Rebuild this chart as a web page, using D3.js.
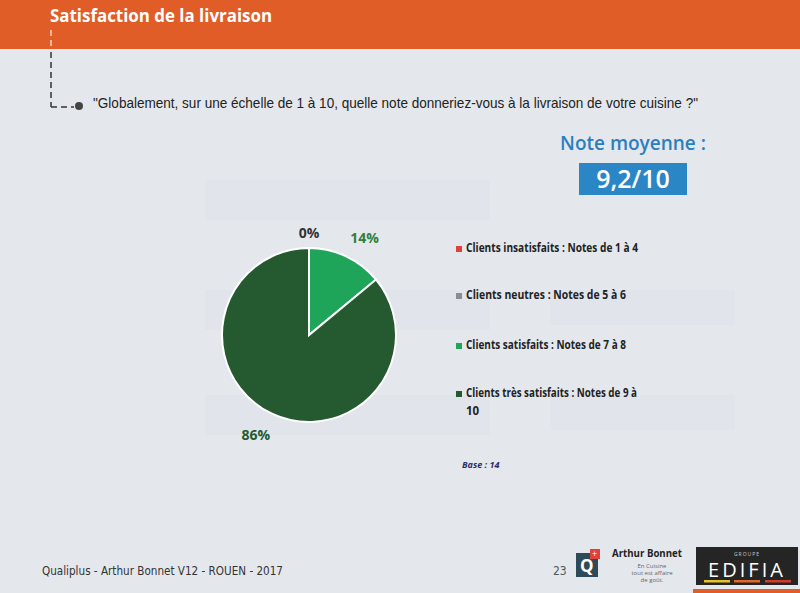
<!DOCTYPE html>
<html><head><meta charset="utf-8">
<script src="https://cdn.jsdelivr.net/npm/d3@7"></script>
<style>
html,body{margin:0;padding:0;background:#e4e8ed;}
svg{display:block;}
</style></head>
<body>
<svg id="c" width="800" height="593"></svg>
<script>
const title = "Satisfaction de la livraison";
const question = "\"Globalement, sur une échelle de 1 à 10, quelle note donneriez-vous à la livraison de votre cuisine ?\"";
const categories = ["Clients insatisfaits : Notes de 1 à 4","Clients neutres : Notes de 5 à 6","Clients satisfaits : Notes de 7 à 8","Clients très satisfaits : Notes de 9 à 10"];
const values = [0, 0, 14, 86];
const colors = ["#e0413a","#8a8d90","#1ea55a","#255a30"];
const labelColors = ["#333","#333","#2f7f3c","#255a30"];
const meanLabel = "Note moyenne :";
const meanValue = "9,2/10";
const baseLabel = "Base : 14";
const footer = "Qualiplus - Arthur Bonnet V12 - ROUEN - 2017";
const pageNum = "23";

const svg = d3.select("#c");
svg.append("rect").attr("width",800).attr("height",593).attr("fill","#e4e8ed");
// faint ghost shapes (bleed-through)
const ghost = svg.append("g").attr("fill","#e1e5eb");
ghost.append("rect").attr("x",205).attr("y",180).attr("width",285).attr("height",40);
ghost.append("rect").attr("x",205).attr("y",290).attr("width",285).attr("height",40);
ghost.append("rect").attr("x",205).attr("y",395).attr("width",285).attr("height",40);
ghost.append("rect").attr("x",550).attr("y",290).attr("width",185).attr("height",35);
ghost.append("rect").attr("x",550).attr("y",395).attr("width",185).attr("height",35);

// header bar
svg.append("rect").attr("x",0).attr("y",0).attr("width",800).attr("height",49).attr("fill","#e15d27");
svg.append("text").attr("x",50).attr("y",22).text(title)
  .attr("fill","#fff").attr("font-family","'Open Sans'").attr("font-weight","bold")
  .attr("font-size",17).attr("textLength",222).attr("lengthAdjust","spacingAndGlyphs");

// dashed connector
svg.append("line").attr("x1",51).attr("x2",51).attr("y1",30).attr("y2",48)
  .attr("stroke","#f3d2c2").attr("stroke-width",1.5).attr("stroke-dasharray","6,4");
svg.append("line").attr("x1",51).attr("x2",51).attr("y1",52).attr("y2",107)
  .attr("stroke","#333").attr("stroke-width",1.5).attr("stroke-dasharray","6,4");
svg.append("line").attr("x1",51).attr("x2",74).attr("y1",107).attr("y2",107)
  .attr("stroke","#333").attr("stroke-width",1.5).attr("stroke-dasharray","6,4");
svg.append("circle").attr("cx",79).attr("cy",106).attr("r",4).attr("fill","#444");
svg.append("text").attr("x",93).attr("y",108).text(question)
  .attr("fill","#222").attr("font-family","'Liberation Sans'").attr("font-size",14.5)
  .attr("textLength",605).attr("lengthAdjust","spacingAndGlyphs");

// mean
svg.append("text").attr("x",633).attr("y",150).attr("text-anchor","middle").text(meanLabel)
  .attr("fill","#2a7fc0").attr("font-family","'Open Sans'").attr("font-weight",600).attr("font-size",19);
svg.append("rect").attr("x",579).attr("y",163).attr("width",108).attr("height",32).attr("fill","#2b86c6");
svg.append("text").attr("x",633).attr("y",188).attr("text-anchor","middle").text(meanValue)
  .attr("fill","#fff").attr("font-family","'Open Sans'").attr("font-weight",600).attr("font-size",25);

// pie
const cx = 309, cy = 335, r = 87;
const pie = d3.pie().sort(null).value(d=>d.v);
const data = pie(categories.map((c,i)=>({c, v: values[i], col: colors[i], lc: labelColors[i]})));
const arc = d3.arc().innerRadius(0).outerRadius(r);
const g = svg.append("g").attr("transform",`translate(${cx},${cy})`);
g.selectAll("path").data(data.filter(d=>d.data.v>0)).join("path")
  .attr("d",arc).attr("fill",d=>d.data.col).attr("stroke","#fff").attr("stroke-width",2);

// labels
const shown = [false,true,true,true];
data.forEach((d,i)=>{
  if(!shown[i]) return;
  let lx, ly;
  if(d.data.v===0){ lx = 0; ly = -r-15; }
  else {
    const a = (d.startAngle+d.endAngle)/2;
    const rr = d.data.v>50 ? r+24 : r+20;
    lx = Math.sin(a)*rr + (d.data.v>50 ? -6 : 10); ly = -Math.cos(a)*rr;
  }
  g.append("text").attr("x",lx).attr("y",ly+5).attr("text-anchor","middle")
    .text(d3.format(".0f")(d.data.v)+"%")
    .attr("fill", d.data.lc)
    .attr("font-family","'Open Sans'").attr("font-weight","bold").attr("font-size",14);
});

// legend
const legY = [251, 298, 348, 396];
const leg = svg.append("g");
categories.forEach((c,i)=>{
  leg.append("rect").attr("x",456).attr("y",legY[i]-5).attr("width",6).attr("height",6).attr("fill",colors[i]);
  const t = leg.append("text").attr("x",466).attr("y",legY[i]+1)
    .attr("fill","#222").attr("font-family","'Open Sans'").attr("font-weight","bold").attr("font-size",11.5);
  if(i===3){
    t.text("Clients très satisfaits : Notes de 9 à").attr("textLength",171).attr("lengthAdjust","spacingAndGlyphs");
    leg.append("text").attr("x",466).attr("y",legY[i]+19).text("10")
      .attr("fill","#222").attr("font-family","'Open Sans'").attr("font-weight","bold").attr("font-size",11.5);
  } else {
    const lens = [172,160,160];
    t.text(c).attr("textLength",lens[i]).attr("lengthAdjust","spacingAndGlyphs");
  }
});
svg.append("text").attr("x",462).attr("y",468).text(baseLabel)
  .attr("fill","#2a2e6a").attr("font-family","'Open Sans'").attr("font-weight","bold")
  .attr("font-style","italic").attr("font-size",9);

// footer
svg.append("text").attr("x",42).attr("y",575).text(footer)
  .attr("fill","#333").attr("font-family","'DejaVu Sans Condensed'").attr("font-size",12)
  .attr("textLength",241).attr("lengthAdjust","spacingAndGlyphs");
svg.append("text").attr("x",553).attr("y",575).text(pageNum)
  .attr("fill","#555").attr("font-family","'DejaVu Sans Condensed'").attr("font-size",12);

// logos
const lg = svg.append("g");
lg.append("rect").attr("x",576).attr("y",553).attr("width",22).attr("height",24).attr("fill","#2c4a57");
lg.append("text").attr("x",580).attr("y",572).text("Q").attr("fill","#fff").attr("font-family","'Open Sans'").attr("font-weight","bold").attr("font-size",17);
lg.append("rect").attr("x",590).attr("y",549).attr("width",10).attr("height",10).attr("fill","#e0413a");
lg.append("text").attr("x",592).attr("y",557).text("+").attr("fill","#fff").attr("font-family","'Open Sans'").attr("font-size",9);
lg.append("text").attr("x",612).attr("y",557).text("Arthur Bonnet").attr("fill","#222")
  .attr("font-family","'Open Sans'").attr("font-weight","bold").attr("font-size",11).attr("textLength",70).attr("lengthAdjust","spacingAndGlyphs");
["En Cuisine","tout est affaire","de goût."].forEach((s,i)=>{
  lg.append("text").attr("x",652).attr("y",568+i*7).attr("text-anchor","middle").text(s)
    .attr("fill","#666").attr("font-family","'Open Sans'").attr("font-size",6);
});
lg.append("rect").attr("x",696).attr("y",547).attr("width",102).attr("height",38).attr("fill","#252525");
lg.append("text").attr("x",747).attr("y",556).attr("text-anchor","middle").text("GROUPE").attr("fill","#ccc").attr("font-family","'Open Sans'").attr("font-size",5).attr("letter-spacing",1);
lg.append("text").attr("x",747).attr("y",577).attr("text-anchor","middle").text("EDIFIA").attr("fill","#fff").attr("font-family","'Open Sans'").attr("font-size",20).attr("letter-spacing",3);
[["#e8c22a",704],["#e0692a",734],["#cf3c2a",765]].forEach(([c,x])=>{
  lg.append("rect").attr("x",x).attr("y",580).attr("width",26).attr("height",2.5).attr("fill",c);
});
lg.append("rect").attr("x",693).attr("y",589).attr("width",107).attr("height",4).attr("fill","#e15d27");
</script>
</body></html>
